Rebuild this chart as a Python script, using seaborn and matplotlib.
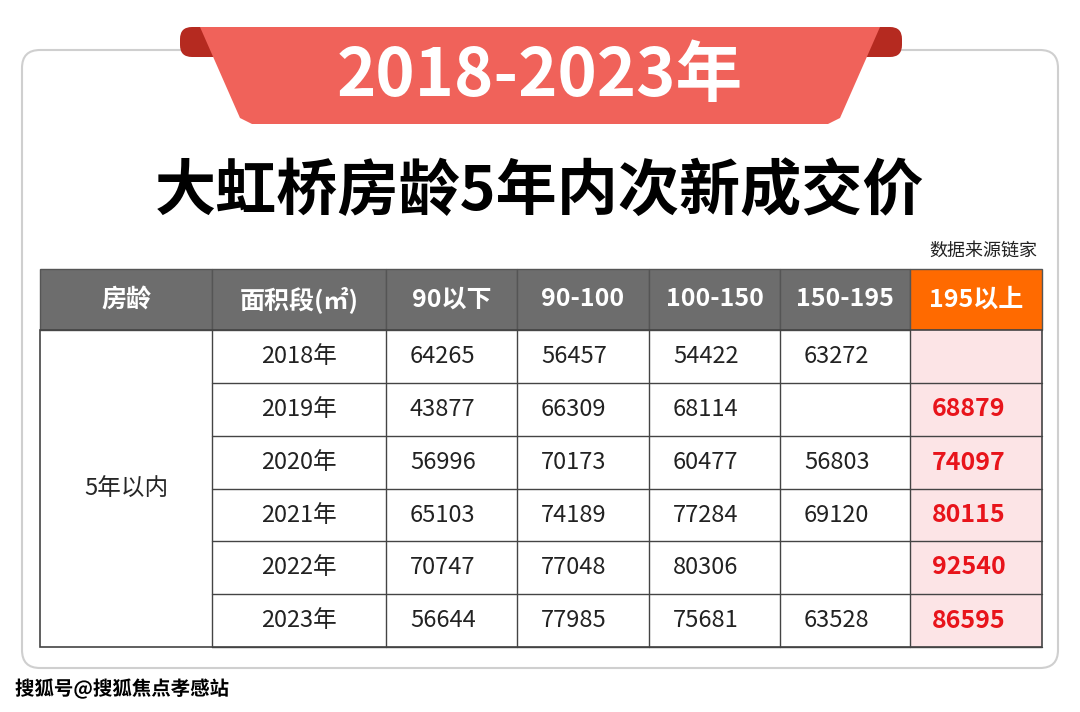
import numpy as np
import pandas as pd
import matplotlib
matplotlib.use("Agg")
import matplotlib.pyplot as plt
from matplotlib.patches import Polygon, FancyBboxPatch, Rectangle
import matplotlib.patheffects as pe
import seaborn as sns

# data
banner_title = "2018-2023年"
main_title = "大虹桥房龄5年内次新成交价"
source_note = "数据来源链家"
watermark = "搜狐号@搜狐焦点孝感站"
headers = ["房龄", "面积段(㎡)", "90以下", "90-100", "100-150", "150-195", "195以上"]
age_group = "5年以内"
years = ["2018年", "2019年", "2020年", "2021年", "2022年", "2023年"]
under_90 = [64265, 43877, 56996, 65103, 70747, 56644]
s90_100 = [56457, 66309, 70173, 74189, 77048, 77985]
s100_150 = [54422, 68114, 60477, 77284, 80306, 75681]
s150_195 = [63272, None, 56803, 69120, None, 63528]
over_195 = [None, 68879, 74097, 80115, 92540, 86595]

df = pd.DataFrame({"90以下": under_90, "90-100": s90_100, "100-150": s100_150,
                   "150-195": s150_195, "195以上": over_195}, index=years)

sns.set_theme(style="white", font="Noto Sans CJK SC")
plt.rcParams["font.family"] = "Noto Sans CJK SC"

fig = plt.figure(figsize=(10.8, 7.12), dpi=100)
ax = fig.add_axes([0, 0, 1, 1])
ax.set_xlim(0, 1080)
ax.set_ylim(712, 0)
ax.axis("off")

# card
ax.add_patch(FancyBboxPatch((22, 50), 1036, 618, boxstyle="round,pad=0,rounding_size=18",
                            fc="white", ec="#cfcfcf", lw=1.5))
# banner ears
ax.add_patch(FancyBboxPatch((180, 27), 50, 30, boxstyle="round,pad=0,rounding_size=12",
                            fc="#b52a20", ec="none"))
ax.add_patch(FancyBboxPatch((852, 27), 50, 30, boxstyle="round,pad=0,rounding_size=12",
                            fc="#b52a20", ec="none"))
ax.add_patch(Polygon([[200, 27], [880, 27], [840, 118], [828, 124], [252, 124], [240, 118]],
                     closed=True, fc="#f0625a", ec="none"))
ax.text(540, 77, banner_title, color="white", fontsize=48, fontweight="bold",
        ha="center", va="center")
ax.text(540, 192, main_title, color="black", fontsize=44, fontweight="bold",
        ha="center", va="center")
ax.text(1037, 251, source_note, color="#222", fontsize=13, ha="right", va="center")

# table
xs = [40, 212, 386, 517, 649, 780, 910, 1042]
ys = [269, 330, 383, 436, 489, 541, 594, 647]
for i, h in enumerate(headers):
    fc = "#ff6a00" if i == len(headers) - 1 else "#6d6d6d"
    ax.add_patch(Rectangle((xs[i], ys[0]), xs[i + 1] - xs[i], ys[1] - ys[0], fc=fc, ec="#555", lw=1))
    ax.text((xs[i] + xs[i + 1]) / 2, (ys[0] + ys[1]) / 2, h, color="white", fontsize=18,
            fontweight="bold", ha="center", va="center")
ax.add_patch(Rectangle((xs[6], ys[1]), xs[7] - xs[6], ys[-1] - ys[1], fc="#fce4e6", ec="none"))
ax.add_patch(Rectangle((xs[0], ys[1]), xs[7] - xs[0], ys[-1] - ys[1], fc="none", ec="#444", lw=1.2))
ax.plot([xs[1], xs[1]], [ys[1], ys[-1]], color="#444", lw=1)
ax.text((xs[0] + xs[1]) / 2, (ys[1] + ys[-1]) / 2, age_group, fontsize=17, ha="center", va="center")
for r, yr in enumerate(years):
    y0, y1 = ys[r + 1], ys[r + 2]
    ax.plot([xs[1], xs[-1]], [y1, y1], color="#444", lw=1)
    cy = (y0 + y1) / 2
    ax.text((xs[1] + xs[2]) / 2, cy, yr, fontsize=17, ha="center", va="center", color="#222")
    for c, col in enumerate(df.columns):
        v = df.loc[yr, col]
        x0, x1 = xs[c + 2], xs[c + 3]
        ax.plot([x0, x0], [y0, y1], color="#444", lw=1)
        if pd.isna(v):
            continue
        if col == "195以上":
            ax.text(x0 + 22, cy, f"{int(v)}", fontsize=18, fontweight="bold", color="#e8141b",
                    ha="left", va="center")
        else:
            ax.text(x0 + 24, cy, f"{int(v)}", fontsize=17, color="#222", ha="left", va="center")

ax.text(15, 689, watermark, fontsize=14, fontweight="bold", color="black", ha="left", va="center",
        path_effects=[pe.withStroke(linewidth=3, foreground="white")])

fig.savefig("out.png", dpi=100, facecolor="white")
